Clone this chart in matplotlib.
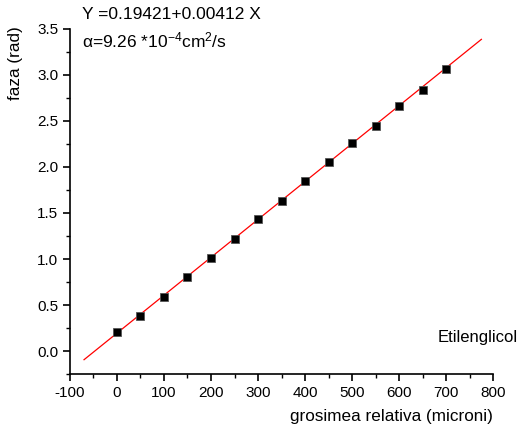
import numpy as np
import matplotlib
matplotlib.use('Agg')
import matplotlib.pyplot as plt
from matplotlib.ticker import MultipleLocator

plt.rcParams['font.family'] = ['Liberation Sans', 'DejaVu Sans']
plt.rcParams['mathtext.fontset'] = 'custom'
plt.rcParams['mathtext.rm'] = 'Liberation Sans'
plt.rcParams['mathtext.it'] = 'Liberation Sans'
plt.rcParams['axes.unicode_minus'] = False

# measured phase vs relative thickness
grosime = [0, 50, 100, 150, 200, 250, 300, 350, 400, 450, 500, 550, 600, 650, 700]
faza = [0.21, 0.38, 0.59, 0.80, 1.01, 1.22, 1.44, 1.63, 1.85, 2.05, 2.26, 2.45, 2.66, 2.84, 3.07]

# linear fit parameters
intercept = 0.19421
slope = 0.00412
fit_x = [-70, 775]

fig = plt.figure(figsize=(5.18, 4.26), dpi=100)
ax = fig.add_axes([0.135, 0.122, 0.817, 0.810])

xf = np.array(fit_x)
ax.plot(xf, intercept + slope * xf, color='red', lw=0.9)
ax.plot(grosime, faza, 's', color='black', ms=6, mec='#555555', mew=0.6)

ax.set_xlim(-100, 800)
ax.set_ylim(-0.25, 3.5)
ax.xaxis.set_major_locator(MultipleLocator(100))
ax.xaxis.set_minor_locator(MultipleLocator(50))
ax.yaxis.set_major_locator(MultipleLocator(0.5))
ax.yaxis.set_minor_locator(MultipleLocator(0.25))
ax.yaxis.set_major_formatter(plt.FormatStrFormatter('%.1f'))
ax.spines['top'].set_visible(False)
ax.spines['right'].set_visible(False)
for s in ('left', 'bottom'):
    ax.spines[s].set_linewidth(1.2)
ax.tick_params(which='major', direction='out', length=5, width=1.2, labelsize=11)
ax.tick_params(which='minor', direction='out', length=3, width=1.0)

ax.set_xlabel('grosimea relativa (microni)', fontsize=12.3)
ax.set_ylabel('faza (rad)', fontsize=12.3)
ax.xaxis.set_label_coords(0.76, -0.1)
ax.yaxis.set_label_coords(-0.11, 0.9)

fig.text(0.158, 0.967, 'Y =0.19421+0.00412 X', fontsize=12.5, va='center')
fig.text(0.158, 0.905, 'α=9.26 *10$^{-4}$cm$^{2}$/s', fontsize=12.5, va='center')
fig.text(0.844, 0.207, 'Etilenglicol', fontsize=12, va='center')

fig.savefig('out.png', dpi=100)
